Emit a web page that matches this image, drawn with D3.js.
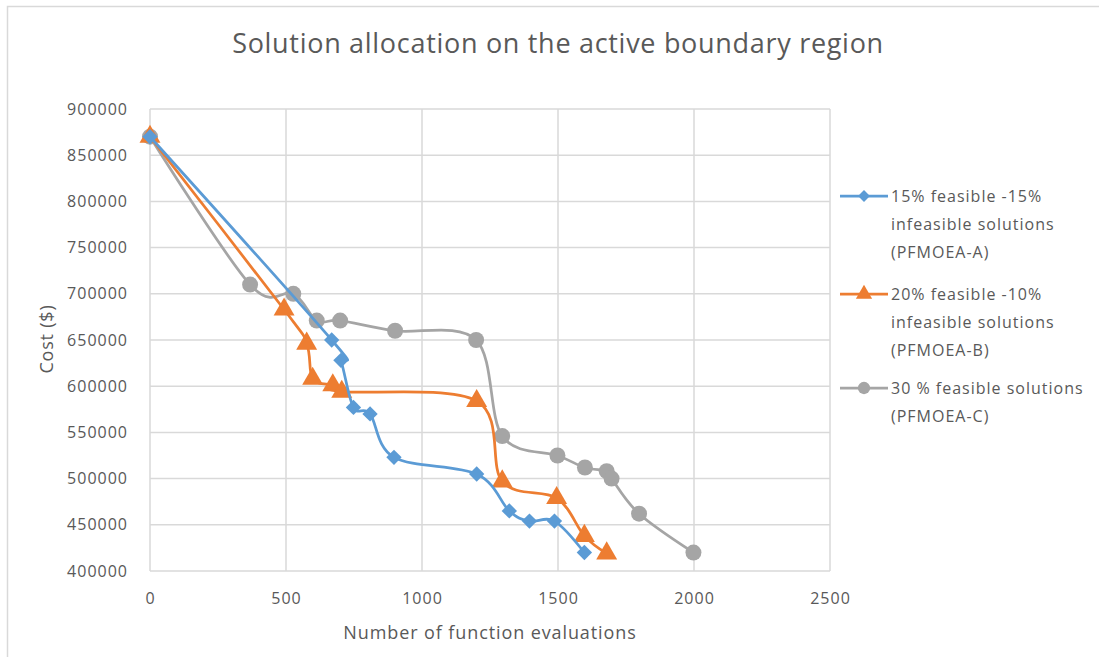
<!DOCTYPE html>
<html>
<head>
<meta charset="utf-8">
<script src="https://cdn.jsdelivr.net/npm/d3@7"></script>
<style>
  html, body { margin: 0; padding: 0; background: #fff; }
  svg { display: block; }
  text { font-family: "Open Sans", Lato, sans-serif; fill: #595959; }
</style>
</head>
<body>
<svg id="chart" width="1099" height="657"></svg>
<script>
// Series: number of function evaluations vs. cost
const seriesNames = [
  ["15% feasible -15%", "infeasible solutions", "(PFMOEA-A)"],
  ["20% feasible -10%", "infeasible solutions", "(PFMOEA-B)"],
  ["30 % feasible solutions", "(PFMOEA-C)"]
];
const aEvals = [0, 668, 702, 748, 809, 897, 1201, 1321, 1395, 1487, 1597];
const aCost  = [870000, 650000, 628000, 577000, 570000, 523000, 505000, 465000, 454000, 454000, 420000];
const bEvals = [0, 493, 576, 598, 672, 705, 1201, 1295, 1495, 1597, 1679];
const bCost  = [870000, 683000, 646000, 608000, 601000, 594000, 584000, 497000, 479000, 438000, 419000];
const cEvals = [0, 368, 527, 613, 699, 901, 1199, 1295, 1498, 1599, 1679, 1697, 1798, 1998];
const cCost  = [870000, 710000, 700000, 671000, 671000, 660000, 650000, 546000, 525000, 512000, 508000, 500000, 462000, 420000];
const xTicks = [0, 500, 1000, 1500, 2000, 2500];
const yTicks = [400000, 450000, 500000, 550000, 600000, 650000, 700000, 750000, 800000, 850000, 900000];

const colors = ["#5b9bd5", "#ed7d31", "#a5a5a5"];
const markers = [d3.symbolDiamond2, d3.symbolTriangle, d3.symbolCircle];
const markerSizes = [150, 190, 200];

const svg = d3.select("#chart");
const plot = { left: 150, right: 830, top: 109, bottom: 571 };

const x = d3.scaleLinear().domain([0, 2500]).range([plot.left, plot.right]);
const y = d3.scaleLinear().domain([400000, 900000]).range([plot.bottom, plot.top]);

// chart frame
svg.append("path")
  .attr("d", "M7.5,660 V6.5 H1110")
  .attr("fill", "none").attr("stroke", "#d9d9d9").attr("stroke-width", 1.5);

// title
svg.append("text")
  .attr("x", 558).attr("y", 53)
  .attr("text-anchor", "middle")
  .style("font-size", "27px")
  .style("letter-spacing", "0.7px")
  .text("Solution allocation on the active boundary region");

// gridlines
const grid = svg.append("g").attr("stroke", "#d9d9d9").attr("stroke-width", 1.5);
grid.selectAll("line.h").data(yTicks).join("line")
  .attr("x1", plot.left).attr("x2", plot.right)
  .attr("y1", d => y(d)).attr("y2", d => y(d));
grid.selectAll("line.v").data(xTicks).join("line")
  .attr("y1", plot.top).attr("y2", plot.bottom)
  .attr("x1", d => x(d)).attr("x2", d => x(d));

// axes (labels only, lines come from the grid)
const xAxis = svg.append("g")
  .attr("transform", `translate(0,${plot.bottom})`)
  .call(d3.axisBottom(x).tickValues(xTicks).tickSize(0).tickPadding(22).tickFormat(d3.format("d")));
const yAxis = svg.append("g")
  .attr("transform", `translate(${plot.left},0)`)
  .call(d3.axisLeft(y).tickValues(yTicks).tickSize(0).tickPadding(22).tickFormat(d3.format("d")));
[xAxis, yAxis].forEach(g => {
  g.select(".domain").remove();
  g.selectAll("text").style("font-size", "16px").attr("fill", "#595959")
    .style("letter-spacing", "1px")
    .style("font-family", "'Open Sans', Lato, sans-serif");
});

// axis titles
svg.append("text")
  .attr("x", 490).attr("y", 639)
  .attr("text-anchor", "middle")
  .style("font-size", "18px")
  .style("letter-spacing", "0.9px")
  .text("Number of function evaluations");
svg.append("text")
  .attr("transform", "translate(53,339) rotate(-90)")
  .attr("text-anchor", "middle")
  .style("font-size", "18px")
  .style("letter-spacing", "0.8px")
  .text("Cost ($)");

// series
const series = [
  aEvals.map((v, i) => [v, aCost[i]]),
  bEvals.map((v, i) => [v, bCost[i]]),
  cEvals.map((v, i) => [v, cCost[i]])
];
const line = d3.line()
  .x(d => x(d[0])).y(d => y(d[1]))
  .curve(d3.curveCatmullRom.alpha(0));

// draw back-to-front: C, B, A
[2, 1, 0].forEach(k => {
  const g = svg.append("g");
  g.append("path").datum(series[k])
    .attr("d", line)
    .attr("fill", "none")
    .attr("stroke", colors[k])
    .attr("stroke-width", 2.75)
    .attr("stroke-linejoin", "round");
  g.selectAll("path.mk").data(series[k]).join("path")
    .attr("class", "mk")
    .attr("transform", d => `translate(${x(d[0])},${y(d[1])})`)
    .attr("d", d3.symbol(markers[k], markerSizes[k]))
    .attr("fill", colors[k]);
});

// legend
const legendTop = [196, 294, 388];
const legend = svg.append("g");
seriesNames.forEach((lines, k) => {
  const g = legend.append("g").attr("transform", `translate(0,${legendTop[k]})`);
  g.append("line").attr("x1", 840).attr("x2", 888).attr("y1", 0).attr("y2", 0)
    .attr("stroke", colors[k]).attr("stroke-width", 2.75);
  g.append("path").attr("transform", "translate(864,0)")
    .attr("d", d3.symbol(markers[k], markerSizes[k] * 0.6))
    .attr("fill", colors[k]);
  lines.forEach((t, j) => {
    g.append("text")
      .attr("x", 891).attr("y", j * 28 + 6)
      .style("font-size", "16px")
      .style("letter-spacing", "1px")
      .text(t);
  });
});
</script>
</body>
</html>
